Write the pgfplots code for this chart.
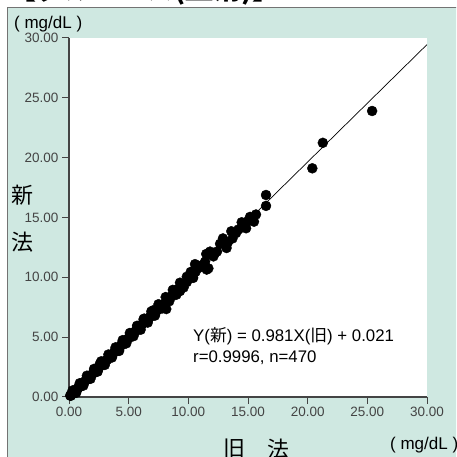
\documentclass[border=0pt]{standalone}
\usepackage{fontspec}
\setmainfont{Liberation Sans}
\newfontfamily\cjk{Noto Sans CJK JP}
\usepackage{xcolor}
\usepackage{pgfplots}
\pgfplotsset{compat=1.18}
\definecolor{panel}{HTML}{CFE8E1}
\definecolor{axgray}{HTML}{444444}

\begin{document}
\begin{tikzpicture}
\useasboundingbox (0,0) rectangle (456pt,457pt);
\clip (0,0) rectangle (456pt,457pt);
% panel
\fill[panel] (7.5pt,-10pt) rectangle (470pt,449.5pt);
\draw[line width=1pt, gray!90!black] (7.5pt,-10pt) -- (7.5pt,449.5pt) -- (470pt,449.5pt);
% cut-off title
\node[anchor=base west, inner sep=0pt, font=\cjk\bfseries\fontsize{28}{28}\selectfont] at (8pt,457pt) {【グルコース(血清)】};

\begin{axis}[
  at={(69pt,60pt)}, anchor=south west,
  scale only axis,
  width=358pt, height=359pt,
  xmin=0, xmax=30, ymin=0, ymax=30,
  axis lines=left,
  axis line style={-, line width=1.2pt, axgray},
  axis background/.style={fill=white},
  xtick={0,5,...,30}, ytick={0,5,...,30},
  tick align=outside,
  major tick length=7pt,
  tick style={line width=1pt, axgray},
  ticklabel style={font=\fontsize{13.5}{14}\selectfont, text=axgray},
  /pgf/number format/assume math mode=true,
  /pgf/number format/.cd, fixed, fixed zerofill, precision=2,
]
\addplot[black, line width=0.7pt, no marks] coordinates {(0,0.021) (30,29.451)};
% main cloud
\addplot[only marks, mark=*, mark size=5pt, black] coordinates {
(0.10,0.12) (0.15,0.10) (0.20,0.22) (0.25,0.24) (0.30,0.28) (0.35,0.36)
(0.40,0.40) (0.45,0.42) (0.50,0.52) (0.55,0.53) (0.60,0.58) (0.70,0.70)
(0.75,0.72) (0.80,0.80) (0.90,0.86) (0.95,0.95) (1.00,1.00) (1.10,1.06)
(1.15,1.14) (1.20,1.20) (1.30,1.26) (1.40,1.40) (1.50,1.45) (1.55,1.55)
(1.60,1.60) (1.70,1.64) (1.80,1.78) (1.90,1.85) (2.00,1.98) (2.10,2.02)
(2.20,2.18) (2.30,2.25) (2.40,2.40) (2.50,2.42) (2.60,2.80) (2.65,2.60)
(2.80,2.75) (2.90,2.85) (3.00,2.92) (3.10,3.05) (3.20,3.10) (3.30,3.25)
(3.40,3.50) (3.50,3.40) (3.60,3.55) (3.70,3.62) (3.80,3.78) (3.90,3.80)
(4.00,3.95) (4.10,4.08) (4.20,4.05) (4.30,4.25) (4.40,4.40) (4.50,4.38)
(4.60,4.55) (4.70,4.60) (4.80,4.75) (4.90,4.85) (5.00,4.90) (5.10,5.05)
(5.20,5.15) (5.30,5.18) (5.40,5.35) (5.50,5.40) (5.60,5.55) (5.70,5.60)
(5.80,5.75) (5.90,5.85) (6.00,5.88) (6.10,6.05) (6.25,6.50) (6.30,6.20)
(6.40,6.30) (6.50,6.45) (6.60,6.50) (6.70,6.60) (6.80,6.70) (6.90,6.85)
(7.00,6.85) (7.07,7.25) (7.20,7.05) (7.30,7.20) (7.40,7.25) (7.50,7.40)
(7.60,7.45) (7.70,7.55) (7.90,7.55) (8.00,7.80) (8.05,7.70) (8.15,7.35)
(8.20,8.00) (8.30,8.10) (8.47,8.35) (8.60,8.40) (8.70,8.55) (8.80,8.70)
(9.00,8.80) (9.10,9.00) (9.30,9.20) (9.30,8.85) (9.45,9.35) (9.60,9.45)
(9.87,9.60) (9.87,10.05) (10.00,9.85) (10.20,10.10) (10.42,10.30) (10.56,11.10)
(10.70,11.00) (10.60,10.45) (10.90,10.80) (11.10,11.00) (11.40,11.30) (11.54,10.65)
(11.68,10.75) (11.50,11.95) (11.76,12.00) (11.82,12.15) (12.10,11.75) (12.20,12.00)
(12.40,12.15) (12.66,12.80) (12.90,13.25) (13.20,12.45) (13.30,12.90) (13.60,13.85)
(13.70,13.25) (14.00,13.70) (14.20,14.00) (14.47,14.60) (14.60,14.25) (14.84,14.10)
(15.00,14.70) (15.17,15.05) (15.50,14.65) (15.67,15.25) (16.51,16.88) (16.51,15.97)
(20.39,19.11) (21.27,21.24) (25.40,23.90)
};
% spread of the dense band
\addplot[only marks, mark=*, mark size=5pt, black] coordinates {
(0.30,0.55) (0.60,0.35) (0.90,1.15) (1.20,0.95) (1.50,1.78) (1.80,1.52)
(2.10,2.35) (2.40,2.12) (2.70,2.98) (3.00,2.68) (3.30,3.55) (3.60,3.30)
(3.90,4.15) (4.20,3.85) (4.50,4.75) (4.80,4.48) (5.10,5.35) (5.40,5.08)
(5.70,5.95) (6.00,5.62) (6.30,6.55) (6.60,6.22) (6.90,7.15) (7.20,6.80)
(7.50,7.75) (7.80,7.40) (8.10,8.35) (8.40,8.00) (8.70,8.95) (9.00,8.55)
(9.30,9.55) (9.60,9.15) (10.20,10.45) (10.40,9.95)
};
\end{axis}

% labels
\node[anchor=west, inner sep=0pt, font=\fontsize{17}{17}\selectfont] at (14pt,433pt) {( mg/dL )};
\node[anchor=west, inner sep=0pt, font=\fontsize{17}{17}\selectfont] at (390pt,12pt) {( mg/dL )};
\node[inner sep=0pt, font=\cjk\fontsize{22}{22}\selectfont] at (22pt,262pt) {新};
\node[inner sep=0pt, font=\cjk\fontsize{22}{22}\selectfont] at (22pt,215pt) {法};
\node[inner sep=0pt, font=\cjk\fontsize{22}{22}\selectfont] at (234pt,8pt) {旧};
\node[inner sep=0pt, font=\cjk\fontsize{22}{22}\selectfont] at (278.5pt,8pt) {法};
\node[anchor=west, inner sep=0pt, font=\fontsize{16.8}{16.8}\selectfont] at (193pt,121pt) {Y({\cjk 新}) = 0.981X({\cjk 旧}) + 0.021};
\node[anchor=west, inner sep=0pt, font=\fontsize{16.8}{16.8}\selectfont] at (193pt,99pt) {r=0.9996, n=470};
\end{tikzpicture}
\end{document}
